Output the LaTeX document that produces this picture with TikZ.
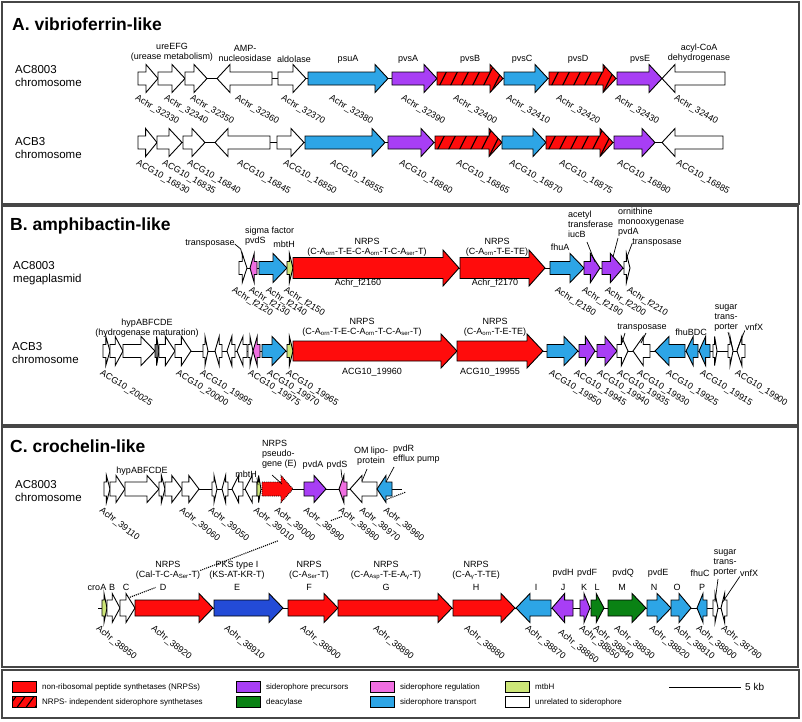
\documentclass[tikz,border=0pt]{standalone}
\usepackage{fontspec}
\setmainfont{Liberation Sans}
\usetikzlibrary{positioning, calc}
\definecolor{nrpsred}{RGB}{255,12,12}
\definecolor{precpurple}{RGB}{168,62,245}
\definecolor{regpink}{RGB}{240,110,225}
\definecolor{transblue}{RGB}{45,165,230}
\definecolor{mbtgreen}{RGB}{205,230,120}
\definecolor{deacgreen}{RGB}{10,130,20}
\definecolor{pksblue}{RGB}{35,75,215}
\definecolor{framegray}{RGB}{70,70,70}

\tikzset{
  gene/.style={draw=black, line width=0.9pt, line join=miter},
  gnrps/.style={fill=nrpsred}, gprec/.style={fill=precpurple},
  greg/.style={fill=regpink}, gtrans/.style={fill=transblue},
  gmbt/.style={fill=mbtgreen}, gdeac/.style={fill=deacgreen},
  gpks/.style={fill=pksblue}, gunrel/.style={fill=white},
  backbone/.style={line width=0.9pt},
  hatchline/.style={line width=1.1pt},
  lead/.style={line width=0.7pt},
  linkline/.style={densely dotted, line width=1.1pt},
  lbl/.style={font=\fontsize{9}{10}\selectfont, align=center, inner sep=0pt},
  lbll/.style={lbl, align=left, anchor=north west},
  tagtext/.style={font=\fontsize{9}{10}\selectfont, inner sep=0pt, anchor=north west, rotate=\tagrot},
  rowname/.style={font=\fontsize{11.5}{13}\selectfont, align=left, anchor=west, inner sep=0pt},
  title/.style={font=\bfseries\fontsize{17.5}{21}\selectfont, anchor=west, inner sep=0pt},
  panel/.style={draw=framegray, line width=1.3pt},
  legtext/.style={font=\fontsize{8}{9}\selectfont, anchor=west, inner sep=0pt}
}

% gene arrows: body half height \gbh, head half height \ghh, head length \ghl
\newcommand{\genecalc}[2]{\pgfmathsetmacro\ghead{min(\ghl,0.6*abs(#2-#1))}}
\newcommand{\fpath}[3]{(#1,{#3-\gbh}) -- ({#2-\ghead},{#3-\gbh}) -- ({#2-\ghead},{#3-\ghh}) -- (#2,#3) -- ({#2-\ghead},{#3+\ghh}) -- ({#2-\ghead},{#3+\gbh}) -- (#1,{#3+\gbh}) -- cycle}
\newcommand{\rpath}[3]{(#2,{#3-\gbh}) -- ({#1+\ghead},{#3-\gbh}) -- ({#1+\ghead},{#3-\ghh}) -- (#1,#3) -- ({#1+\ghead},{#3+\ghh}) -- ({#1+\ghead},{#3+\gbh}) -- (#2,{#3+\gbh}) -- cycle}
\newcommand{\fgene}[4][gunrel]{\genecalc{#2}{#3}\draw[gene,#1] \fpath{#2}{#3}{#4};}
\newcommand{\rgene}[4][gunrel]{\genecalc{#2}{#3}\draw[gene,#1] \rpath{#2}{#3}{#4};}
\newcommand{\hgene}[3]{%
  \genecalc{#1}{#2}
  \fill[nrpsred] \fpath{#1}{#2}{#3};
  \begin{scope}
    \clip \fpath{#1}{#2}{#3};
    \pgfmathsetmacro\hsa{#1+11}
    \foreach \k in {#1,\hsa,...,#2}
      \draw[hatchline] ({\k-1},{#3+\ghh}) -- ({\k+13},{#3-\ghh});
  \end{scope}
  \draw[gene] \fpath{#1}{#2}{#3};}
\newcommand{\atag}[3]{\node[tagtext] (a#3) at (#1,#2) {Achr\_#3};}
\newcommand{\gtag}[3]{\node[tagtext] (g#3) at (#1,#2) {ACG10\_#3};}

\begin{document}
\begin{tikzpicture}[x=1pt, y=-1pt]
\useasboundingbox (0,0) rectangle (802,721);

% panel frames
\draw[panel] (2,2) rectangle (799,204);
\draw[panel] (2,206) rectangle (798,425);
\draw[panel] (2,427) rectangle (798,667);
\draw[panel] (2,670) rectangle (799,718);

%%%%%%%% A. vibrioferrin-like
\node[title] (titA) at (12,24) {A. vibrioferrin-like};
\node[rowname] (rowA1) at (15,76.5) {AC8003\\chromosome};
\node[rowname] (rowA2) at (15,148.5) {ACB3\\chromosome};
\def\gbh{6.5}\def\ghh{14}\def\ghl{13}\def\tagrot{-30}

% AC8003 chromosome
\draw[backbone] (138,78.5) -- (725,78.5);
\fgene{138}{158}{78.5}
\fgene{158}{185}{78.5}
\fgene{185}{207}{78.5}
\rgene{217}{272}{78.5}
\fgene{278}{306}{78.5}
\fgene[gtrans]{308}{388}{78.5}
\fgene[gprec]{392}{437}{78.5}
\hgene{437}{503}{78.5}
\fgene[gtrans]{504}{548}{78.5}
\hgene{549}{616}{78.5}
\fgene[gprec]{617}{662}{78.5}
\rgene{662}{725}{78.5}

\node[lbl] (ure) at (172,52.5) {ureEFG\\(urease metabolism)};
\node[lbl] (amp) at (245,53) {AMP-\\nucleosidase};
\node[lbl] (ald) at (294,59) {aldolase};
\node[lbl] (psuA) at (348,59) {psuA};
\node[lbl] (pvsA) at (408,59) {pvsA};
\node[lbl] (pvsB) at (470,59) {pvsB};
\node[lbl] (pvsC) at (522,59) {pvsC};
\node[lbl] (pvsD) at (578,59) {pvsD};
\node[lbl] (pvsE) at (640,59) {pvsE};
\node[lbl] (acyl) at (699,53) {acyl-CoA\\dehydrogenase};

\foreach \x/\n in {138/32330, 167/32340, 193/32350, 238/32360, 284/32370, 332/32380,
    404/32390, 456/32400, 509/32410, 559/32420, 618/32430, 677/32440}
  {\atag{\x}{94}{\n}}

% ACB3 chromosome
\draw[backbone] (138,142.5) -- (723,142.5);
\fgene{138}{157}{142.5}
\fgene{157}{182}{142.5}
\fgene{183}{205}{142.5}
\rgene{215}{270}{142.5}
\fgene{277}{304}{142.5}
\fgene[gtrans]{305}{385}{142.5}
\fgene[gprec]{388}{434}{142.5}
\hgene{435}{502}{142.5}
\fgene[gtrans]{502}{546}{142.5}
\hgene{546}{613}{142.5}
\fgene[gprec]{614}{655}{142.5}
\rgene{662}{723}{142.5}

\foreach \x/\n in {139/16830, 165/16835, 190/16840, 240/16845, 286/16850, 333/16855,
    402/16860, 459/16865, 512/16870, 562/16875, 620/16880, 679/16885}
  {\gtag{\x}{159}{\n}}

%%%%%%%% B. amphibactin-like
\node[title] (titB) at (10,226) {B. amphibactin-like};
\node[rowname] (rowB1) at (13,273) {AC8003\\megaplasmid};
\node[rowname] (rowB2) at (12,353.5) {ACB3\\chromosome};
\def\gbh{6.5}\def\ghh{14.5}\def\ghl{14}\def\tagrot{-32}

% AC8003 megaplasmid
\draw[backbone] (239,268) -- (630,268);
\fgene{239}{247}{268}
\rgene[greg]{250}{257}{268}
\fgene[gtrans]{259}{287}{268}
\fgene[gmbt]{287}{293}{268}
{\def\gbh{10.5}\def\ghh{18}\def\ghl{16}
 \fgene[gnrps]{293}{459}{268}
 \fgene[gnrps]{460}{545}{268}}
\fgene[gtrans]{550}{584}{268}
\fgene[gprec]{584}{600}{268}
\fgene[gprec]{602}{623}{268}
\fgene{624}{630}{268}

\node[lbl] (trp1) at (210,244) {transposase};
\node[lbll] (sig1) at (245,227) {sigma factor\\pvdS};
\node[lbl] (mbt1) at (284,244) {mbtH};
\node[lbl] (nrps1) at (367,247) {NRPS\\(C-A\textsubscript{orn}-T-E-C-A\textsubscript{orn}-T-C-A\textsubscript{ser}-T)};
\node[lbl] (f2160) at (358,283) {Achr\_f2160};
\node[lbl] (nrps2) at (497,247.5) {NRPS\\(C-A\textsubscript{orn}-T-E-TE)};
\node[lbl] (f2170) at (495,283) {Achr\_f2170};
\node[lbl] (fhuA) at (560,247) {fhuA};
\node[lbll] (iucB) at (568,211) {acetyl\\transferase\\iucB};
\node[lbll] (pvdA1) at (618,208) {ornithine\\monooxygenase\\pvdA};
\node[lbl] (trp2) at (657,243) {transposase};
\coordinate (c2120) at (243,258);
\coordinate (c2190) at (595,262);
\coordinate (c2200) at (613,257);
\coordinate (c2210) at (627,257);
\draw[lead] (trp1.east) -- ++(6,5) -- (c2120);
\draw[lead] (587,242) -- (c2190);
\draw[lead] (618,238) -- (c2200);
\draw[lead] (trp2.west) -- (c2210);

\foreach \x/\n in {235/f2120, 252/f2130, 269/f2140, 287/f2150, 558/f2180, 585/f2190,
    608/f2200, 630/f2210}
  {\atag{\x}{286}{\n}}

% ACB3 chromosome
\draw[backbone] (103,351) -- (745,351);
\fgene{103}{110}{351}
\fgene{110}{123}{351}
\fgene{123}{155}{351}
\fgene[fill=black!55]{155}{159}{351}
\fgene{159}{175}{351}
\fgene{175}{191}{351}
\fgene{203}{208}{351}
\rgene{215}{222}{351}
\rgene{227}{235}{351}
\rgene{237}{247}{351}
\fgene{248}{253}{351}
\rgene[greg]{253}{260}{351}
\fgene[gtrans]{262}{286}{351}
\fgene[gmbt]{287}{293}{351}
{\def\gbh{10}\def\ghh{17}\def\ghl{16}
 \fgene[gnrps]{293}{457}{351}
 \fgene[gnrps]{457}{543}{351}}
\fgene[gtrans]{547}{578}{351}
\fgene[gprec]{579}{595}{351}
\fgene[gprec]{597}{617}{351}
\fgene{617}{628}{351}
\rgene{633}{650}{351}
\rgene[gtrans]{655}{685}{351}
\rgene[gtrans]{686}{698}{351}
\rgene[gtrans]{699}{710}{351}
\fgene{713}{717}{351}
\fgene{728}{733}{351}
\rgene{737}{745}{351}

\node[lbl] (hyp1) at (147,328) {hypABFCDE\\(hydrogenase maturation)};
\node[lbl] (nrps3) at (362,327) {NRPS\\(C-A\textsubscript{orn}-T-E-C-A\textsubscript{orn}-T-C-A\textsubscript{ser}-T)};
\node[lbl] (g19960) at (372,372) {ACG10\_19960};
\node[lbl] (nrps4) at (495,327.5) {NRPS\\(C-A\textsubscript{orn}-T-E-TE)};
\node[lbl] (g19955) at (490,372) {ACG10\_19955};
\node[lbl] (trp3) at (642,328) {transposase};
\node[lbl] (fhuBDC) at (691,332) {fhuBDC};
\node[lbl] (sug1) at (726,318.5) {sugar\\trans-\\porter};
\node[lbl] (vnf1) at (754,327) {vnfX};
\coordinate (c19935) at (622,343);
\coordinate (c19930) at (641,343);
\coordinate (c19910) at (733,350);
\coordinate (c19900) at (737,350);
\draw[lead] (625,333) -- (c19935);
\draw[lead] (646,333) -- (c19930);
\draw[lead] (sug1.south) ++(2,0) -- (c19910);
\draw[lead] (vnf1.south west) -- (c19900);

\foreach \x/\n in {103/20025, 179/20000, 203/19995, 251/19975, 270/19970, 289/19965,
    552/19950, 577/19945, 600/19940, 620/19935, 640/19930, 669/19925, 703/19915, 738/19900}
  {\gtag{\x}{369}{\n}}

%%%%%%%% C. crochelin-like
\node[title] (titC) at (10,446) {C. crochelin-like};
\node[rowname] (rowC1) at (15,491) {AC8003\\chromosome};
\def\gbh{7}\def\ghh{13.5}\def\ghl{12}\def\tagrot{-38}

% link between the two maps, broken where the labels sit
\coordinate (linkA) at (128,598);
\coordinate (linkB) at (406,492);
\foreach \ta/\tb in {0/0.10, 0.26/0.54, 0.73/0.77, 0.93/1}
  \draw[linkline] ($(linkA)!\ta!(linkB)$) -- ($(linkA)!\tb!(linkB)$);

% AC8003 chromosome, upper map
\draw[backbone] (104,489) -- (402,489);
\fgene{104}{110}{489}
\fgene{110}{125}{489}
\fgene{125}{159}{489}
\fgene{159}{165}{489}
\fgene{165}{182}{489}
\fgene{182}{199}{489}
\fgene{212}{217}{489}
\rgene{222}{228}{489}
\rgene{232}{243}{489}
\rgene{245}{257}{489}
\fgene[gmbt]{257}{261}{489}
\fgene[gnrps,densely dotted]{262}{293}{489}
\fgene[gprec]{304}{326}{489}
\rgene[greg]{339}{347}{489}
\rgene{350}{377}{489}
\rgene[gtrans]{377}{392}{489}

\node[lbl] (hyp2) at (142,471) {hypABFCDE};
\node[lbl] (mbt2) at (246,474) {mbtH};
\node[lbll] (pseudo) at (262,440) {NRPS\\pseudo-\\gene (E)};
\node[lbl] (pvdA2) at (313,465) {pvdA};
\node[lbl] (pvdS2) at (337,465) {pvdS};
\node[lbl] (omlp) at (371,456) {OM lipo-\\protein};
\node[lbll] (pvdR) at (393,445) {pvdR\\efflux pump};
\coordinate (c39010) at (258,485);
\coordinate (c39000) at (282,484);
\coordinate (c38980) at (342,478);
\coordinate (c38970) at (362,481);
\coordinate (c38960) at (386,482);
\draw[lead] (mbt2.south east) -- (c39010);
\draw[lead] (272,475) -- (c39000);
\draw[lead] (pvdS2.south) ++(4,0) -- (c38980);
\draw[lead] (367,469) -- (c38970);
\draw[lead] (394,467) -- (c38960);

\foreach \x/\n in {103/39110, 183/39060, 212/39050, 257/39010, 278/39000, 307/38990,
    342/38980, 363/38970, 387/38960}
  {\atag{\x}{506}{\n}}

% lower map
\def\gbh{8}\def\ghh{14.5}\def\ghl{14}\def\tagrot{-39}
\draw[backbone] (98,608) -- (727,608);
\fgene[gmbt]{102}{107}{608}
\fgene{107}{120}{608}
\fgene{120}{135}{608}
\fgene[gnrps]{135}{213}{608}
\fgene[gpks]{214}{283}{608}
\fgene[gnrps]{288}{338}{608}
\fgene[gnrps]{338}{452}{608}
\fgene[gnrps]{453}{515}{608}
\rgene[gtrans]{516}{551}{608}
\rgene[gprec]{552}{573}{608}
\fgene[gprec]{580}{590}{608}
\fgene[gdeac]{591}{604}{608}
\fgene[gdeac]{608}{646}{608}
\fgene[gtrans]{647}{671}{608}
\fgene[gtrans]{671}{691}{608}
\rgene[gtrans]{697}{707}{608}
\fgene{713}{718}{608}
\rgene{721}{727}{608}

\node[lbl] (croA) at (97,587) {croA};
\node[lbl] (nrpsD) at (168,570) {NRPS\\(Cal-T-C-A\textsubscript{Ser}-T)};
\node[lbl] (pksE) at (237,570) {PKS type I\\(KS-AT-KR-T)};
\node[lbl] (nrpsF) at (309,570) {NRPS\\(C-A\textsubscript{Ser}-T)};
\node[lbl] (nrpsG) at (386,570) {NRPS\\(C-A\textsubscript{Asp}-T-E-A\textsubscript{γ}-T)};
\node[lbl] (nrpsH) at (476,570) {NRPS\\(C-A\textsubscript{γ}-T-TE)};
\foreach \x/\n in {563/pvdH, 587/pvdF, 623/pvdQ, 658/pvdE, 700/fhuC}
  \node[lbl] (\n) at (\x,573) {\n};
\foreach \x/\l in {112/B, 126/C, 163/D, 237/E, 309/F, 386/G, 476/H, 536/I, 563/J,
    584/K, 597/L, 622/M, 654/N, 677/O, 702/P}
  \node[lbl] (m\l) at (\x,587) {\l};
\node[lbl] (sug2) at (725,563) {sugar\\trans-\\porter};
\node[lbl] (vnf2) at (749,573) {vnfX};
\coordinate (c38800) at (715,602);
\coordinate (c38780) at (722,603);
\draw[lead] (718,579) -- (c38800);
\draw[lead] (vnf2.south west) -- (c38780);

\foreach \x/\n in {100/38950, 155/38920, 228/38910, 304/38900, 377/38890, 468/38880,
    529/38870, 583/38850, 597/38840, 618/38830, 653/38820, 678/38810, 700/38800, 725/38780}
  {\atag{\x}{624}{\n}}
\atag{562}{628}{38860}

%%%%%%%% legend
\foreach \s/\x/\yy/\t in {gnrps/12/687/{non-ribosomal peptide synthetases (NRPSs)},
    gprec/236/687/{siderophore precursors}, gdeac/236/702/{deacylase},
    greg/370/687/{siderophore regulation}, gtrans/370/702/{siderophore transport},
    gmbt/505/687/{mtbH}, gunrel/505/702/{unrelated to siderophore}} {
  \draw[gene,\s] (\x,\yy-5.5) rectangle ++(24,11);
  \node[legtext] (leg-\s) at (\x+30,\yy) {\t};
}
\fill[nrpsred] (12,696.5) rectangle (36,707.5);
\begin{scope}
  \clip (12,696.5) rectangle (36,707.5);
  \foreach \k in {8,17,...,36}
    \draw[hatchline] (\k,707.5) -- (\k+8,696.5);
\end{scope}
\draw[gene] (12,696.5) rectangle (36,707.5);
\node[legtext] (leg-hatch) at (42,702) {NRPS- independent siderophore synthetases};
\coordinate (sbL) at (669,687);
\coordinate (sbR) at (741,687);
\draw[line width=1pt] (sbL) -- (sbR);
\node[legtext, font=\fontsize{10}{12}\selectfont, right=4pt of sbR] (kb) {5 kb};
\end{tikzpicture}
\end{document}
